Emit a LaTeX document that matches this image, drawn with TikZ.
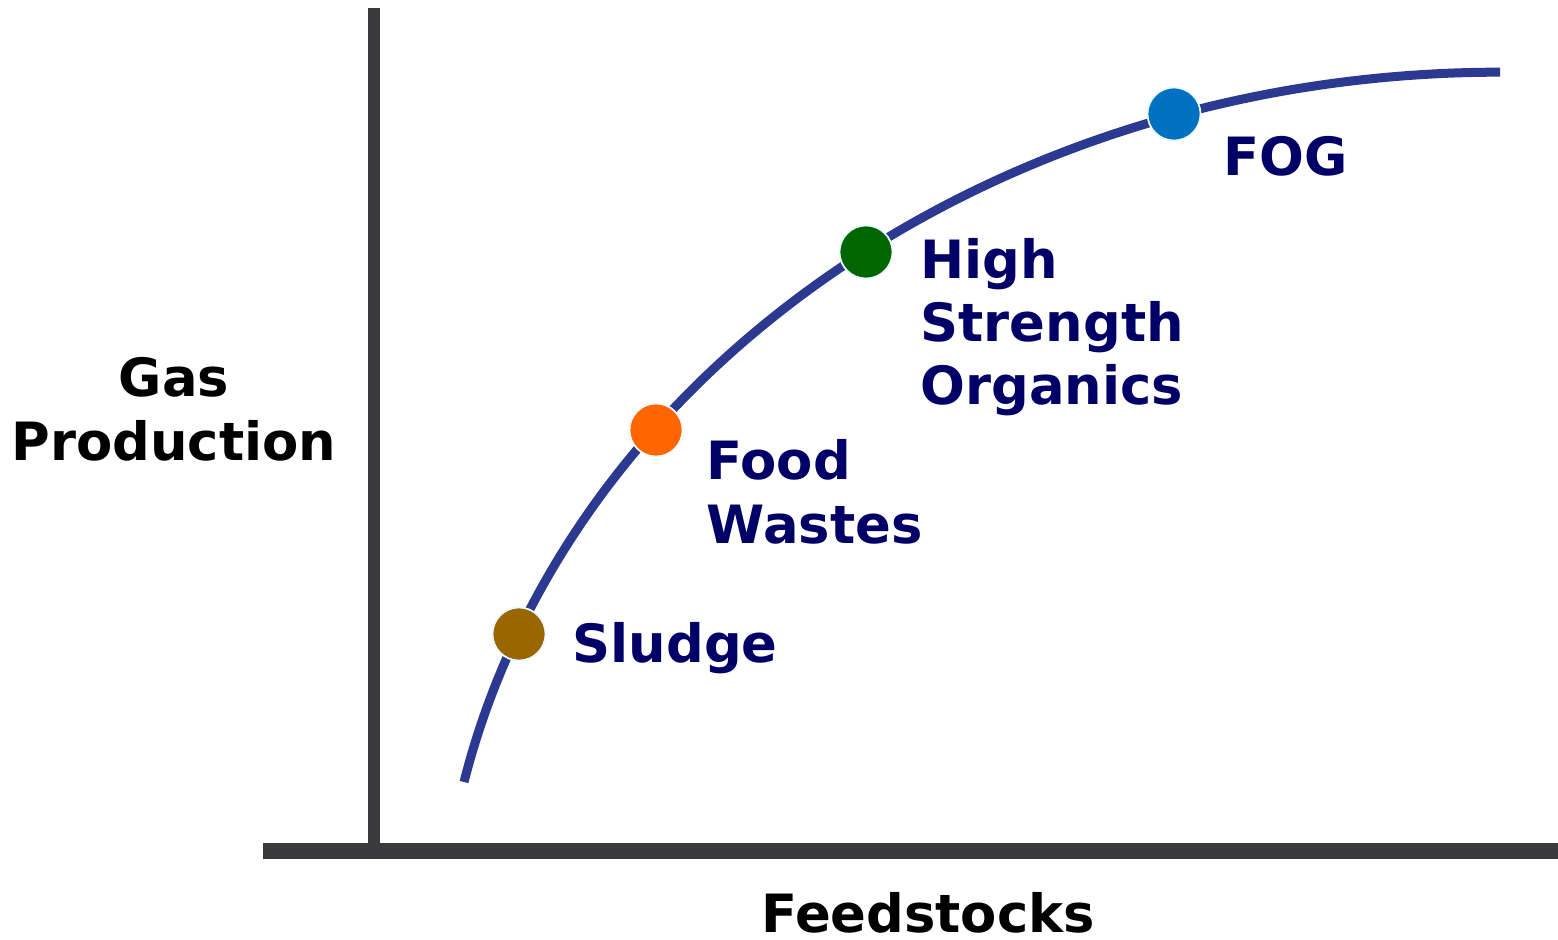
\documentclass[tikz,border=0pt]{standalone}
\usepackage{fontspec}
\setmainfont{DejaVu Sans}
\definecolor{axisgray}{HTML}{3A3A3C}
\definecolor{curveblue}{HTML}{2B3990}
\definecolor{labelnavy}{HTML}{000066}
\definecolor{sludgecol}{HTML}{996600}
\definecolor{foodcol}{HTML}{FF6600}
\definecolor{hsocol}{HTML}{006600}
\definecolor{fogcol}{HTML}{0070C0}
\begin{document}
\begin{tikzpicture}[x=0.01cm, y=-0.01cm,
  dot/.style={circle,draw=cyan!8,line width=0.5pt,minimum size=0.53cm,inner sep=0pt},
  lbl/.style={text=labelnavy,font=\fontsize{15}{18}\selectfont\bfseries,align=left,anchor=base west,inner sep=0pt},
  ax/.style={text=black,font=\fontsize{15}{18}\selectfont\bfseries,align=center,inner sep=0pt}]
  \useasboundingbox (0,0) rectangle (1558,940);
  % axes
  \coordinate (ytop) at (374,8);
  \coordinate (ybot) at (374,845);
  \coordinate (xl) at (263,851);
  \coordinate (xr) at (1558,851);
  \draw[axisgray,line width=0.12cm] (ytop) -- (ybot);
  \draw[axisgray,line width=0.16cm] (xl) -- (xr);
  % curve (quarter ellipse)
  \coordinate (c0) at (464,782);
  \draw[curveblue,line width=0.09cm] (c0) arc[start angle=-167.8,end angle=-90,x radius=1060,y radius=900];
  % points
  \node[dot,fill=sludgecol] (sludge) at (519,634) {};
  \node[dot,fill=foodcol] (food) at (656,430) {};
  \node[dot,fill=hsocol] (hso) at (866,252) {};
  \node[dot,fill=fogcol] (fog) at (1174,114) {};
  \node[lbl] (sludgelbl) at (572,662) {Sludge};
  \node[lbl] (foodlbl) at (706,543) {Food\\Wastes};
  \node[lbl] (hsolbl) at (920,405) {High\\Strength\\Organics};
  \node[lbl] (foglbl) at (1223,176) {FOG};
  % axis titles
  \node[ax,anchor=base] (ylbl) at (174,460) {Gas\\Production};
  \node[ax,anchor=base] (xlbl) at (928,932) {Feedstocks};
\end{tikzpicture}
\end{document}
